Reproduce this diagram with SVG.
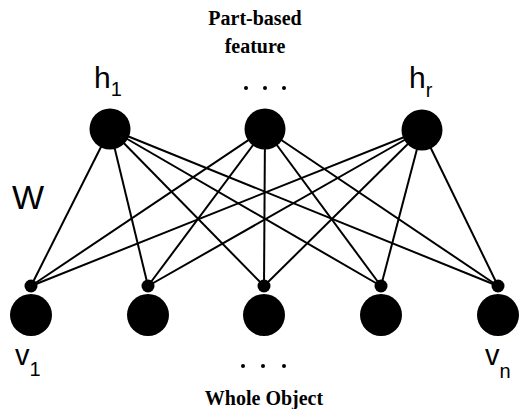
<svg xmlns="http://www.w3.org/2000/svg" width="526" height="409" viewBox="0 0 526 409">
<style>
.edge{stroke:#000;stroke-width:2;fill:none}
.node{fill:#000}
.sans{font-family:"Liberation Sans",Arial,sans-serif;fill:#000}
.serif{font-family:"Liberation Serif","Times New Roman",serif;font-weight:bold;fill:#000}
.dot{fill:#000}
</style>
<rect width="526" height="409" fill="#fff"/>
<g id="connectors">
<line class="edge" x1="110" y1="129" x2="31" y2="286"/>
<line class="edge" x1="110" y1="129" x2="148" y2="286"/>
<line class="edge" x1="110" y1="129" x2="264" y2="286"/>
<line class="edge" x1="110" y1="129" x2="381" y2="286"/>
<line class="edge" x1="110" y1="129" x2="498" y2="286"/>
<line class="edge" x1="265" y1="129" x2="31" y2="286"/>
<line class="edge" x1="265" y1="129" x2="148" y2="286"/>
<line class="edge" x1="265" y1="129" x2="264" y2="286"/>
<line class="edge" x1="265" y1="129" x2="381" y2="286"/>
<line class="edge" x1="265" y1="129" x2="498" y2="286"/>
<line class="edge" x1="422" y1="130" x2="31" y2="286"/>
<line class="edge" x1="422" y1="130" x2="148" y2="286"/>
<line class="edge" x1="422" y1="130" x2="264" y2="286"/>
<line class="edge" x1="422" y1="130" x2="381" y2="286"/>
<line class="edge" x1="422" y1="130" x2="498" y2="286"/>
</g>
<g id="h1"><circle class="node" cx="110" cy="129" r="20.5"/><text class="sans" x="94" y="88" font-size="30">h<tspan font-size="20" dy="8">1</tspan></text></g>
<g id="hmid"><circle class="node" cx="265" cy="129" r="20.5"/><circle class="dot" cx="246" cy="88" r="2"/><circle class="dot" cx="265" cy="88" r="2"/><circle class="dot" cx="284" cy="88" r="2"/></g>
<g id="hr"><circle class="node" cx="422" cy="130" r="20.5"/><text class="sans" x="409" y="88" font-size="30">h<tspan font-size="20" dy="9">r</tspan></text></g>
<g id="v1"><circle class="node" cx="31" cy="286" r="6.5"/><circle class="node" cx="31" cy="315" r="21"/><text class="sans" x="15" y="365" font-size="29">v<tspan font-size="20" dy="11">1</tspan></text></g>
<g id="v2"><circle class="node" cx="148" cy="286" r="6.5"/><circle class="node" cx="148" cy="315" r="21"/></g>
<g id="v3"><circle class="node" cx="264" cy="286" r="6.5"/><circle class="node" cx="264" cy="315" r="21"/><circle class="dot" cx="243" cy="366" r="2"/><circle class="dot" cx="263" cy="366" r="2"/><circle class="dot" cx="284" cy="366" r="2"/></g>
<g id="v4"><circle class="node" cx="381" cy="286" r="6.5"/><circle class="node" cx="381" cy="315" r="21"/></g>
<g id="vn"><circle class="node" cx="498" cy="286" r="6.5"/><circle class="node" cx="498" cy="315" r="21"/><text class="sans" x="485" y="365" font-size="29">v<tspan font-size="20" dy="13">n</tspan></text></g>
<g id="labels">
<text class="sans" x="12" y="209" font-size="34">W</text>
<text class="serif" x="255" y="25" font-size="20" text-anchor="middle">Part-based</text>
<text class="serif" x="255" y="53" font-size="20" text-anchor="middle">feature</text>
<text class="serif" x="264" y="405" font-size="20" text-anchor="middle">Whole Object</text>
</g>
</svg>
